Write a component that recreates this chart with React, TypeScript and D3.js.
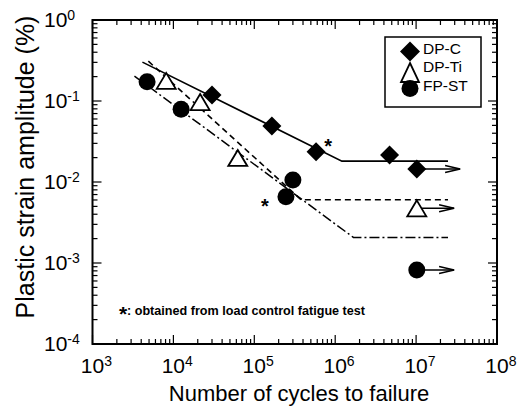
import React from "react";
import * as d3 from "d3";

// measured points (cycles to failure, plastic strain amplitude %)
const dpcCycles = [3.0e4, 1.65e5, 5.8e5, 4.7e6, 1.02e7];
const dpcStrain = [0.119, 0.049, 0.0237, 0.0216, 0.0145];
const dptiCycles = [8.15e3, 2.14e4, 6.25e4, 1.02e7];
const dptiStrain = [0.177, 0.097, 0.0198, 0.00473];
const fpstCycles = [4.73e3, 1.245e4, 3.0e5, 2.46e5, 1.02e7];
const fpstStrain = [0.173, 0.079, 0.0106, 0.00659, 0.00082];

// fitted lines: start, knee, end
const dpcLineCycles = [4.14e3, 1.21e6, 2.48e7];
const dpcLineStrain = [0.302, 0.0181, 0.0181];
const dptiLineCycles = [4.9e3, 3.8e5, 2.48e7];
const dptiLineStrain = [0.31, 0.00603, 0.00603];
const fpstLineCycles = [3.3e3, 1.68e6, 2.48e7];
const fpstLineStrain = [0.203, 0.00207, 0.00207];

// run-out arrows (last point of each series) end at these cycles
const runoutEnd = [3.5e7, 2.95e7, 2.95e7];

// points from load control tests (series, index)
const loadControl: [string, number][] = [["DP-C", 2], ["FP-ST", 3]];

const xExps = [3, 4, 5, 6, 7, 8];
const yExps = [0, -1, -2, -3, -4];
const legendNames = ["DP-C", "DP-Ti", "FP-ST"];

const W = 528, H = 412;
const m = { left: 92.5, right: 497, top: 20, bottom: 344 };

export default function App() {
  const x = d3.scaleLog().domain([1e3, 1e8]).range([m.left, m.right]);
  const y = d3.scaleLog().domain([1e-4, 1]).range([m.bottom, m.top]);
  const font = "'Liberation Sans', Arial, Helvetica, sans-serif";

  const line = d3
    .line<[number, number]>()
    .x((d) => x(d[0]))
    .y((d) => y(d[1]));
  const zip = (a: number[], b: number[]) => a.map((v, i) => [v, b[i]] as [number, number]);

  // ticks (decades + minors), inward on all four sides
  const xTicks: { v: number; major: boolean }[] = [];
  for (let e = 3; e <= 8; e++) {
    for (let k = 1; k <= 9; k++) {
      const v = k * Math.pow(10, e);
      if (v > 1e8) break;
      xTicks.push({ v, major: k === 1 });
    }
  }
  const yTicks: { v: number; major: boolean }[] = [];
  for (let e = -4; e <= 0; e++) {
    for (let k = 1; k <= 9; k++) {
      const v = k * Math.pow(10, e);
      if (v > 1) break;
      yTicks.push({ v, major: k === 1 });
    }
  }
  const maj = 9, min = 5;

  const diamond = (cx: number, cy: number, r: number) =>
    `M${cx},${cy - r}L${cx + r},${cy}L${cx},${cy + r}L${cx - r},${cy}Z`;
  const triangle = (cx: number, cy: number, w: number, h: number) =>
    `M${cx},${cy - h / 2}L${cx + w / 2},${cy + h / 2}L${cx - w / 2},${cy + h / 2}Z`;

  const series = [
    { name: "DP-C", cyc: dpcCycles, str: dpcStrain },
    { name: "DP-Ti", cyc: dptiCycles, str: dptiStrain },
    { name: "FP-ST", cyc: fpstCycles, str: fpstStrain },
  ];

  const arrow = (n: number, s: number, end: number, key: string) => {
    const x0 = x(n), x1 = x(end), yy = y(s);
    return (
      <g key={key} stroke="#000" strokeWidth={1.5} fill="none">
        <line x1={x0} y1={yy} x2={x1} y2={yy} />
        <polyline points={`${x1 - 15},${yy - 3.5} ${x1},${yy} ${x1 - 15},${yy + 3.5}`} />
      </g>
    );
  };

  const marker = (name: string, cx: number, cy: number, key: string) => {
    if (name === "DP-C") return <path key={key} d={diamond(cx, cy, 9.5)} fill="#000" />;
    if (name === "DP-Ti")
      return <path key={key} d={triangle(cx, cy, 19, 16)} fill="#fff" stroke="#000" strokeWidth={1.8} />;
    return <circle key={key} cx={cx} cy={cy} r={8.5} fill="#000" />;
  };

  return (
    <svg width={W} height={H} style={{ position: "absolute", left: 0, top: 0, background: "#fff" }} fontFamily={font}>
      {/* fitted lines */}
      <path d={line(zip(dpcLineCycles, dpcLineStrain)) || ""} fill="none" stroke="#000" strokeWidth={1.6} />
      <path d={line(zip(dptiLineCycles, dptiLineStrain)) || ""} fill="none" stroke="#000" strokeWidth={1.6} strokeDasharray="6,4" />
      <path d={line(zip(fpstLineCycles, fpstLineStrain)) || ""} fill="none" stroke="#000" strokeWidth={1.5} strokeDasharray="10,3,2,3" />

      {/* run-out arrows */}
      {series.map((s, i) => arrow(s.cyc[s.cyc.length - 1], s.str[s.str.length - 1], runoutEnd[i], "a" + i))}

      {/* markers */}
      {series.map((s) => s.cyc.map((c, j) => marker(s.name, x(c), y(s.str[j]), s.name + j)))}

      {/* load-control asterisks */}
      {loadControl.map(([name, idx]) => {
        const s = series.find((d) => d.name === name)!;
        const px = x(s.cyc[idx]), py = y(s.str[idx]);
        const dx = name === "DP-C" ? 12 : -21;
        const dy = name === "DP-C" ? -10 : 5;
        return (
          <text key={"ast" + name} x={px + dx} y={py + dy + 11} fontSize={20} fontWeight="bold" textAnchor="middle">
            *
          </text>
        );
      })}

      {/* frame */}
      <rect x={m.left} y={m.top} width={m.right - m.left} height={m.bottom - m.top} fill="none" stroke="#000" strokeWidth={2} />
      <g stroke="#000" strokeWidth={1.2}>
        {xTicks.map((t, i) => (
          <g key={"xt" + i}>
            <line x1={x(t.v)} x2={x(t.v)} y1={m.bottom} y2={m.bottom - (t.major ? maj : min)} />
            <line x1={x(t.v)} x2={x(t.v)} y1={m.top} y2={m.top + (t.major ? maj : min)} />
          </g>
        ))}
        {yTicks.map((t, i) => (
          <g key={"yt" + i}>
            <line y1={y(t.v)} y2={y(t.v)} x1={m.left} x2={m.left + (t.major ? maj : min)} />
            <line y1={y(t.v)} y2={y(t.v)} x1={m.right} x2={m.right - (t.major ? maj : min)} />
          </g>
        ))}
      </g>

      {/* tick labels */}
      {xExps.map((e) => (
        <text key={"xl" + e} x={x(Math.pow(10, e)) - 11.7} y={373} fontSize={21}>
          10
          <tspan dy={-7} fontSize={14}>{e}</tspan>
        </text>
      ))}
      {yExps.map((e) => (
        <text key={"yl" + e} x={44} y={y(Math.pow(10, e)) + 7} fontSize={21}>
          10
          <tspan dy={-7} fontSize={14}>{e < 0 ? "-" + -e : e}</tspan>
        </text>
      ))}

      {/* axis titles */}
      <text x={299} y={401} fontSize={22} textAnchor="middle">
        Number of cycles to failure
      </text>
      <text transform="translate(34,167) rotate(-90)" fontSize={25} textAnchor="middle">
        Plastic strain amplitude (%)
      </text>

      {/* legend */}
      <rect x={385} y={37} width={96} height={70} fill="#fff" stroke="#000" strokeWidth={1.5} />
      <path d={diamond(410, 51.5, 10)} fill="#000" />
      <path d={triangle(410, 72.5, 18, 19)} fill="#fff" stroke="#000" strokeWidth={1.8} />
      <circle cx={410} cy={88.5} r={8.5} fill="#000" />
      {legendNames.map((n, i) => (
        <text key={"lg" + n} x={423} y={[53.5, 72, 90.5][i]} fontSize={15.5}>
          {n}
        </text>
      ))}

      {/* note */}
      <text x={119} y={321} fontSize={21} fontWeight="bold">*</text>
      <text x={127} y={315} fontSize={13} fontWeight="bold" textLength={238} lengthAdjust="spacingAndGlyphs">
        : obtained from load control fatigue test
      </text>
    </svg>
  );
}
